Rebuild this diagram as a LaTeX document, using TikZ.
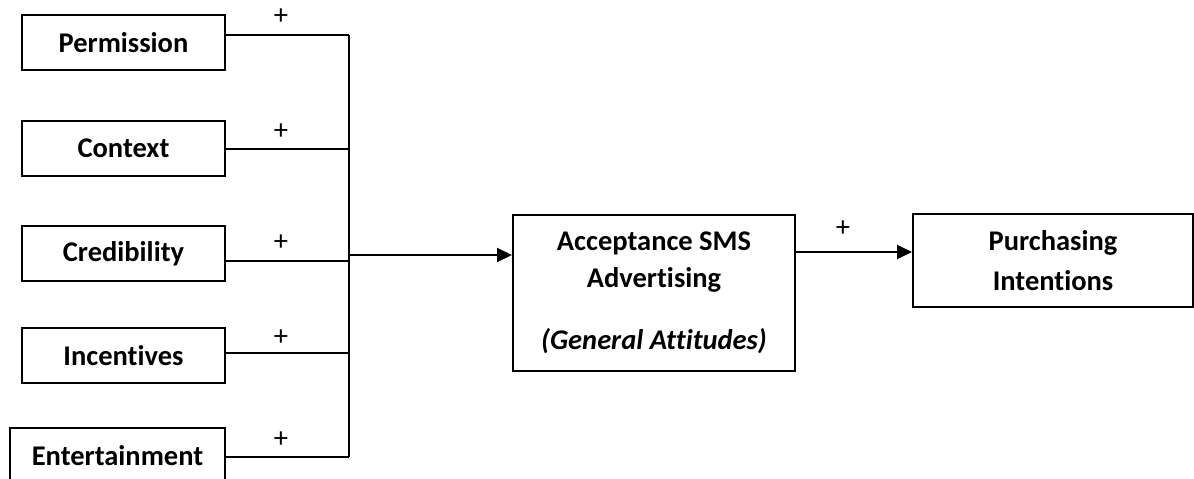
\documentclass[tikz,border=0pt]{standalone}
\usepackage{fontspec}
\setmainfont{Carlito}[Ligatures=NoCommon]
\usetikzlibrary{arrows.meta,positioning}
\begin{document}
\begin{tikzpicture}[x=1pt,y=-1pt,
  box/.style={draw,line width=2pt,rectangle,inner sep=0pt,
    font=\fontsize{28.5}{37}\selectfont\bfseries,align=center},
  link/.style={line width=2pt},
  arr/.style={line width=2pt,-{Triangle[length=15pt,width=14pt]}},
  sign/.style={font=\fontsize{28.5}{34}\selectfont,inner sep=0pt}]
\useasboundingbox (0,0) rectangle (1194,479);
% input factors
\node[box,minimum width=203pt,minimum height=55pt] (perm) at (123.5,42.5) {Permission};
\node[box,minimum width=203pt,minimum height=55pt] (cont) at (123.5,148.5) {Context};
\node[box,minimum width=203pt,minimum height=55pt] (cred) at (123.5,253.5) {Credibility};
\node[box,minimum width=203pt,minimum height=55pt] (ince) at (123.5,355.5) {Incentives};
\node[box,minimum width=215pt,minimum height=55pt] (ente) at (117.5,455.5) {Entertainment};
% central construct and outcome
\node[box,minimum width=282pt,minimum height=156pt] (acc) at (654,293) {};
\node[font=\fontsize{28.5}{37}\selectfont\bfseries,align=center,inner sep=0pt] (acct) at (654,262)
  {Acceptance SMS\\Advertising};
\node[font=\fontsize{28.5}{34}\selectfont\bfseries\itshape,inner sep=0pt,anchor=base] (gen) at (654,349)
  {(General Attitudes)};
\node[box,minimum width=280pt,minimum height=93pt,font=\fontsize{28.5}{40}\selectfont\bfseries] (purch) at (1053,260.5)
  {Purchasing\\Intentions};
% collector bus
\coordinate (bt) at (349,35);
\coordinate (bb) at (349,457);
\coordinate (bm) at (349,255);
\draw[link] ([yshift=7.5pt]perm.east) -- (bt);
\draw[link] ([yshift=-0.5pt]cont.east) coordinate (c2) -- (c2 -| bt);
\draw[link] ([yshift=-7.5pt]cred.east) coordinate (c3) -- (c3 -| bt);
\draw[link] ([yshift=2.5pt]ince.east) coordinate (c4) -- (c4 -| bt);
\draw[link] ([yshift=-1.5pt]ente.east) -- (bb);
\draw[link] (bt) -- (bb);
\draw[arr] (bm) -- (bm -| acc.west);
\draw[arr] ([yshift=41pt]acc.east) coordinate (c6) -- (c6 -| purch.west);
% signs
\node[sign] (s1) at (281,17) {+};
\node[sign] (s2) at (281,132) {+};
\node[sign] (s3) at (281,243) {+};
\node[sign] (s4) at (281,338) {+};
\node[sign] (s5) at (281,440) {+};
\node[sign] (s6) at (843,229) {+};
\end{tikzpicture}
\end{document}
